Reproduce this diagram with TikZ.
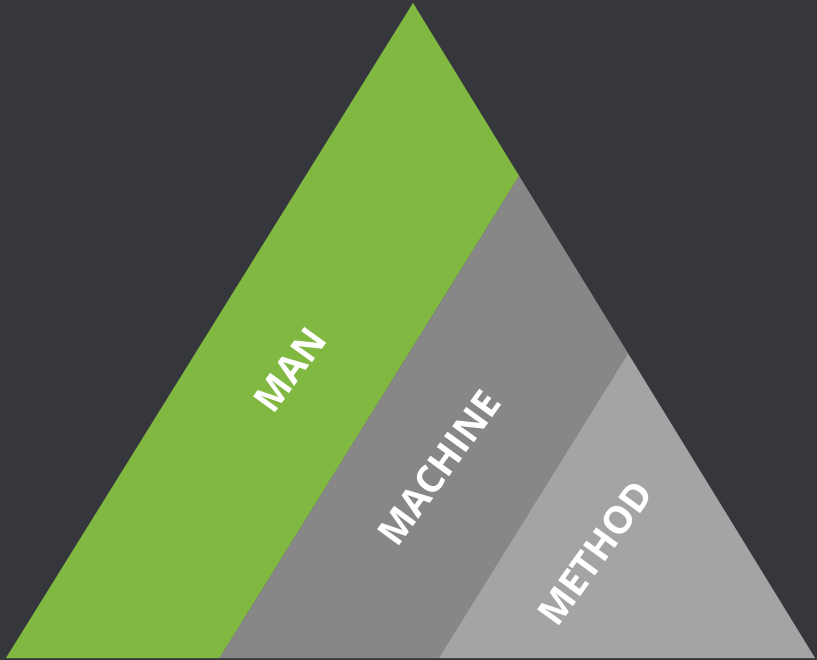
\documentclass[tikz,border=0pt]{standalone}
\usepackage{fontspec}
\setmainfont{Open Sans}
\usetikzlibrary{calc}
\definecolor{bgdark}{HTML}{35373C}
\definecolor{mangreen}{HTML}{80B841}
\definecolor{machgray}{HTML}{878787}
\definecolor{methgray}{HTML}{A4A4A4}
\begin{document}
\begin{tikzpicture}[x=1pt,y=-1pt,
    band label/.style={text=white,font=\bfseries\fontsize{38}{38}\selectfont,rotate=54,inner sep=0pt}]
    \fill[bgdark] (0,0) rectangle (817,660);
    \useasboundingbox (0,0) rectangle (817,660);

    \coordinate (apex) at (413,3);
    \coordinate (left) at (6,658);
    \coordinate (right) at (815,658);
    \coordinate (r1) at ($(apex)!0.264!(right)$);
    \coordinate (r2) at ($(apex)!0.535!(right)$);
    \coordinate (b1) at ($(left)!0.264!(right)$);
    \coordinate (b2) at ($(left)!0.535!(right)$);

    \fill[mangreen] (apex)--(r1)--(b1)--(left)--cycle;
    \fill[machgray] (r1)--(r2)--(b2)--(b1)--cycle;
    \fill[methgray] (r2)--(right)--(b2)--cycle;

    \node[band label] (man) at (290,370) {MAN};
    \node[band label] (machine) at (439,468) {MACHINE};
    \node[band label] (method) at (595,553) {METHOD};
\end{tikzpicture}
\end{document}
